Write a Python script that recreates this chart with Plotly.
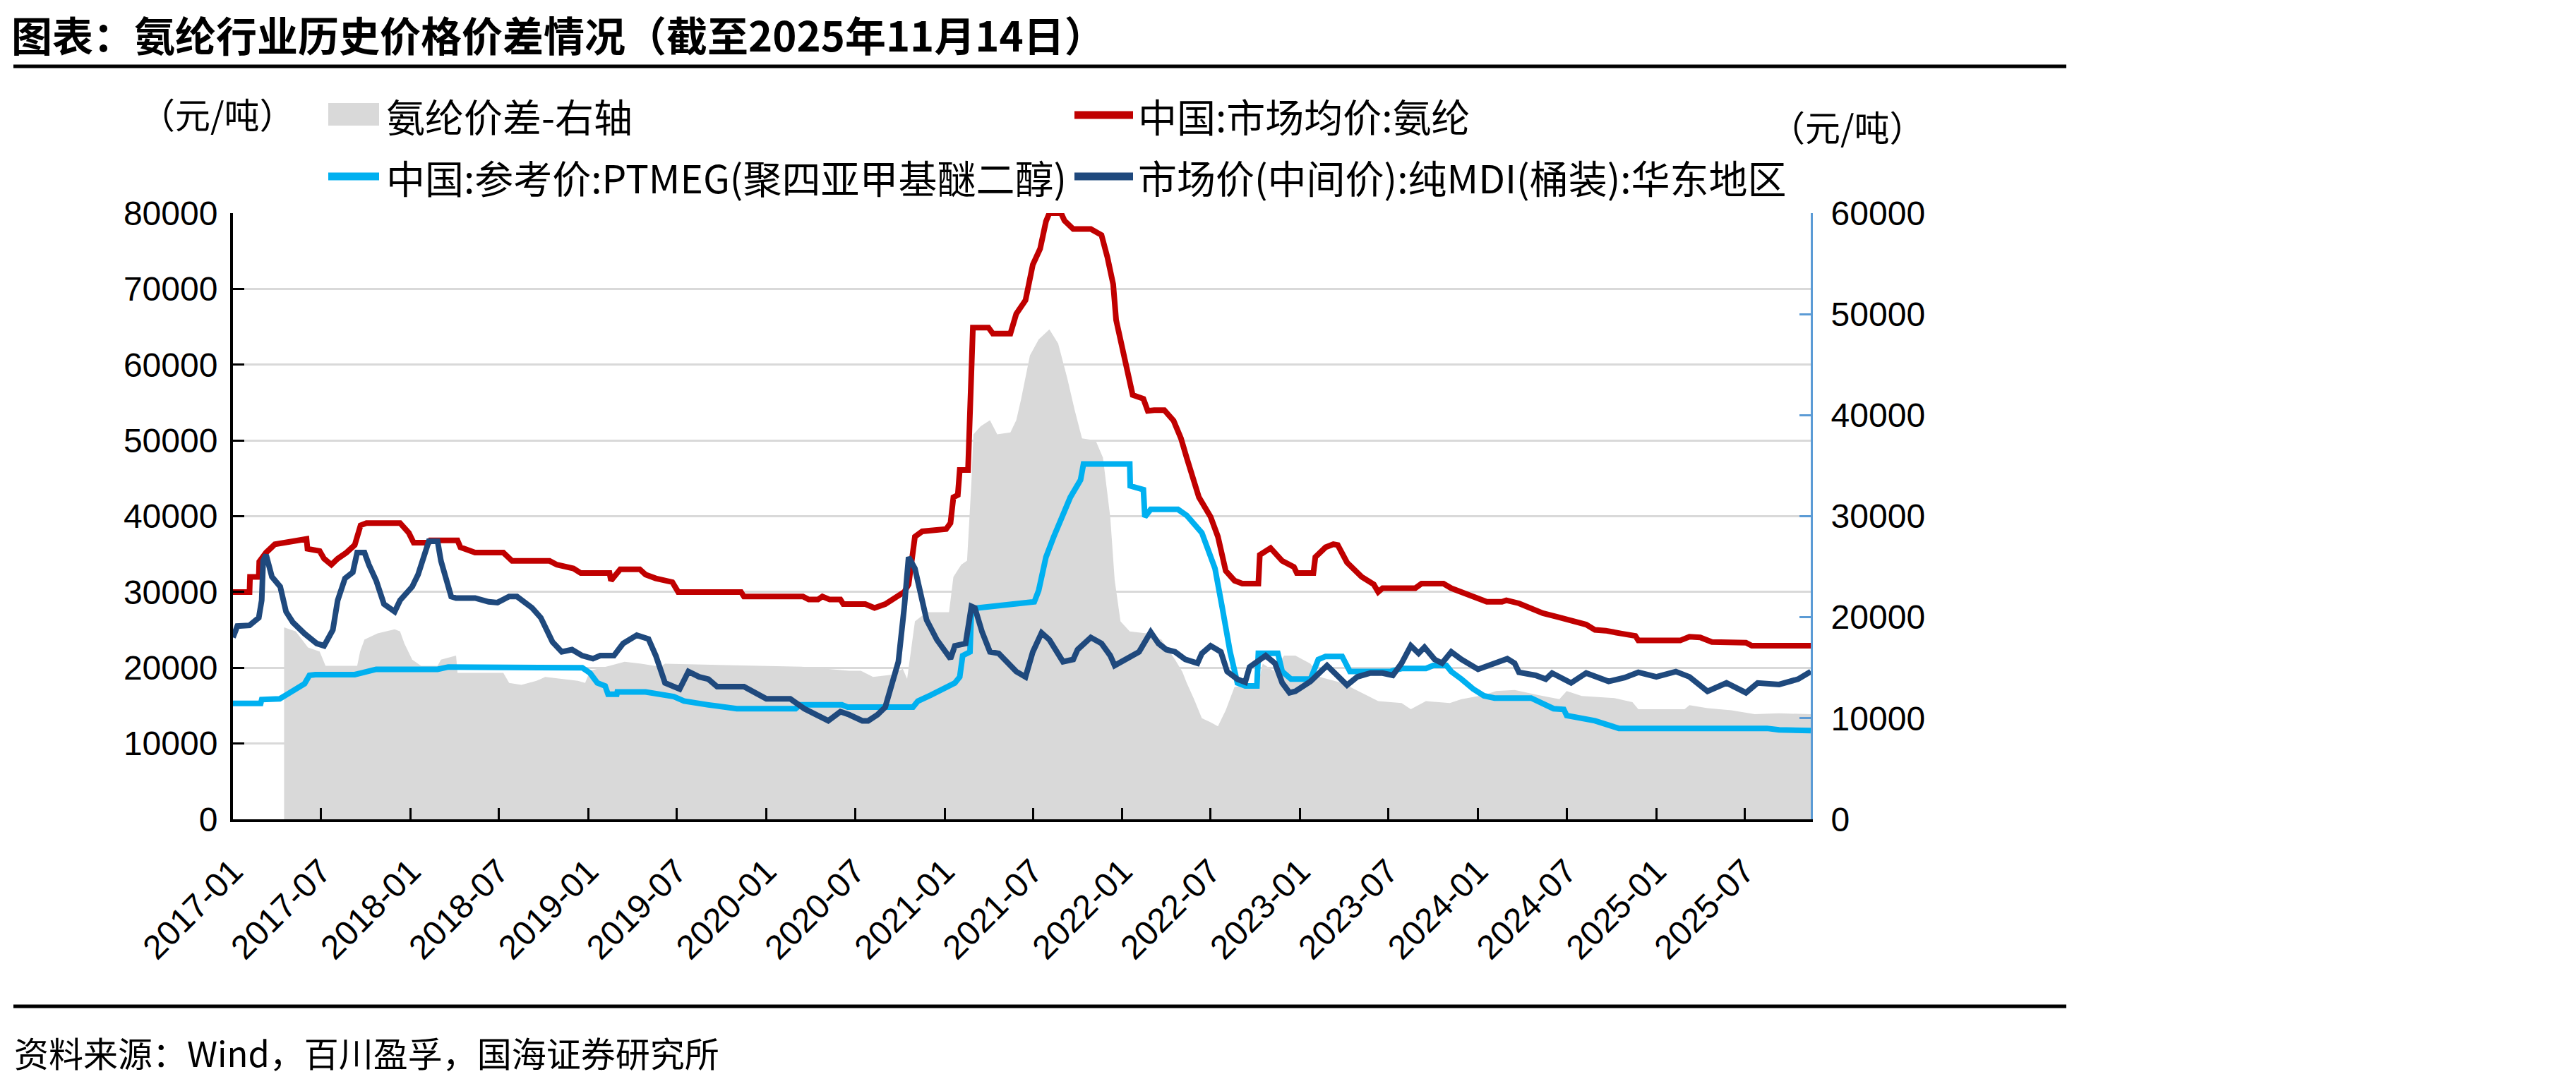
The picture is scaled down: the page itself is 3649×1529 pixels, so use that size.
import plotly.graph_objects as go

# ---------------- data ----------------
spandex_dates = ["2017-01-01","2017-02-04","2017-02-05","2017-02-23","2017-02-24","2017-03-10","2017-03-28","2017-05-10","2017-06-01","2017-06-03",
"2017-06-28","2017-07-07","2017-07-22","2017-08-04","2017-08-22","2017-09-08","2017-09-20","2017-10-02","2017-12-10","2017-12-28",
"2018-01-07","2018-02-07","2018-02-10","2018-04-07","2018-04-13","2018-05-13","2018-07-10","2018-07-28","2018-10-13","2018-10-28",
"2018-12-01","2018-12-16","2019-02-13","2019-02-16","2019-03-07","2019-04-16","2019-04-28","2019-05-19","2019-06-22","2019-07-04",
"2019-11-10","2019-11-16","2020-03-16","2020-03-28","2020-04-16","2020-04-25","2020-05-10","2020-06-01","2020-06-07","2020-07-22",
"2020-08-10","2020-09-01","2020-09-25","2020-10-10","2020-10-19","2020-11-01","2020-11-16","2021-01-04","2021-01-13","2021-01-19",
"2021-01-28","2021-02-01","2021-02-18","2021-02-24","2021-02-28","2021-04-01","2021-04-10","2021-05-16","2021-05-28","2021-06-16",
"2021-07-01","2021-07-16","2021-07-28","2021-08-04","2021-08-28","2021-09-04","2021-09-22","2021-10-28","2021-11-19","2021-12-01",
"2021-12-13","2021-12-19","2022-01-01","2022-01-16","2022-01-22","2022-02-13","2022-02-22","2022-03-07","2022-03-28","2022-04-16",
"2022-05-01","2022-05-13","2022-06-07","2022-07-01","2022-07-16","2022-08-01","2022-08-19","2022-09-04","2022-10-07","2022-10-10",
"2022-11-01","2022-11-25","2022-12-19","2022-12-25","2023-01-28","2023-02-01","2023-02-22","2023-03-10","2023-03-19","2023-04-07",
"2023-05-07","2023-06-01","2023-06-10","2023-06-19","2023-08-25","2023-09-07","2023-10-22","2023-11-07","2023-11-28","2023-12-25",
"2024-01-19","2024-02-19","2024-02-28","2024-03-25","2024-04-25","2024-05-13","2024-06-13","2024-07-10","2024-08-10","2024-08-28",
"2024-09-19","2024-10-22","2024-11-19","2024-11-25","2025-02-19","2025-03-10","2025-04-01","2025-04-25","2025-07-04","2025-07-16",
"2025-11-14"]
spandex_price = [30000,30000,32000,32000,34000,35200,36300,36800,37000,35700,
35400,34400,33600,34400,35200,36200,38800,39100,39100,37800,
36500,36500,36800,36800,35900,35200,35200,34100,34100,33600,
33100,32500,32500,31500,33000,33000,32300,31800,31300,30000,
30000,29400,29400,29000,29000,29400,29000,29000,28400,28400,
27900,28400,29400,30000,31000,37300,38000,38300,39100,42500,
42800,46100,46100,55500,64900,64900,64100,64100,66700,68500,
73200,75300,78900,80000,80000,79000,77900,77900,77100,74200,
70600,65900,62300,58100,56000,55500,53900,54000,54000,52600,
50300,47700,42500,39900,37300,32800,31500,31100,31100,34900,
35800,34100,33300,32500,32500,34600,35900,36300,36200,33900,
32000,31000,30000,30500,30500,31100,31100,30500,30000,29400,
28700,28700,28900,28500,27800,27200,26700,26200,25700,25000,
24900,24500,24200,23600,23600,24100,24000,23400,23300,22900,
22900]

ptmeg_dates = ["2017-01-01","2017-02-27","2017-03-01","2017-04-07","2017-04-20","2017-05-10","2017-05-28","2017-06-07","2017-06-19","2017-09-08",
"2017-10-02","2017-10-22","2018-02-25","2018-03-19","2018-12-19","2019-01-04","2019-01-19","2019-02-04","2019-02-10","2019-02-28",
"2019-03-01","2019-04-28","2019-06-25","2019-07-16","2019-09-04","2019-11-01","2020-03-01","2020-03-10","2020-06-04","2020-06-16",
"2020-10-28","2020-11-07","2020-12-04","2021-01-22","2021-02-01","2021-02-07","2021-02-22","2021-02-25","2021-03-10","2021-04-13",
"2021-07-04","2021-07-13","2021-07-28","2021-08-13","2021-09-16","2021-10-07","2021-10-13","2022-01-16","2022-01-17","2022-02-13",
"2022-02-16","2022-02-28","2022-04-25","2022-05-13","2022-05-25","2022-06-13","2022-06-28","2022-07-10","2022-07-25","2022-08-10",
"2022-08-25","2022-09-10","2022-10-04","2022-10-07","2022-11-16","2022-11-25","2022-12-13","2023-01-22","2023-02-07","2023-02-22",
"2023-03-28","2023-04-13","2023-07-04","2023-07-28","2023-09-16","2023-10-01","2023-10-28","2023-11-07","2023-11-28","2023-12-22",
"2024-01-13","2024-02-04","2024-04-19","2024-05-13","2024-06-04","2024-06-25","2024-07-01","2024-08-28","2024-10-07","2024-10-16",
"2025-08-16","2025-09-10","2025-11-14"]
ptmeg_price = [15300,15300,15800,15900,16400,17200,17900,19000,19100,19100,
19500,19800,19800,20100,20000,19300,18000,17600,16500,16500,
16800,16800,16200,15600,15100,14600,14600,15100,15100,14800,
14800,15600,16400,18000,18800,21600,22100,27600,27900,28100,
28700,30200,34600,37300,42500,44800,46900,46900,44000,43500,
39900,40900,40900,40100,39300,37800,35200,33100,27900,22100,
18000,17600,17600,21900,21900,19500,18500,18500,21100,21500,
21500,19500,19500,19900,19900,20300,20300,19500,18500,17200,
16300,16000,16000,15300,14600,14500,13700,13000,12200,12000,
12000,11800,11700]

mdi_dates = ["2017-01-01","2017-01-10","2017-02-04","2017-02-23","2017-03-01","2017-03-04","2017-03-10","2017-03-22","2017-04-08","2017-04-20",
"2017-05-04","2017-05-28","2017-06-22","2017-07-07","2017-07-25","2017-08-04","2017-08-19","2017-09-04","2017-09-13","2017-09-28",
"2017-10-07","2017-10-22","2017-11-07","2017-11-29","2017-12-10","2018-01-04","2018-01-16","2018-01-28","2018-02-07","2018-02-25",
"2018-03-04","2018-03-25","2018-04-04","2018-05-13","2018-06-10","2018-06-28","2018-07-22","2018-08-07","2018-09-07","2018-09-25",
"2018-10-10","2018-10-19","2018-11-07","2018-11-28","2018-12-19","2019-01-10","2019-01-25","2019-02-22","2019-03-13","2019-04-10",
"2019-05-04","2019-05-19","2019-06-07","2019-07-07","2019-07-25","2019-08-16","2019-09-04","2019-09-22","2019-11-16","2020-01-01",
"2020-02-19","2020-03-19","2020-05-07","2020-06-01","2020-06-19","2020-07-16","2020-07-28","2020-08-16","2020-09-01","2020-09-13",
"2020-09-28","2020-10-10","2020-10-19","2020-11-01","2020-11-13","2020-11-25","2020-12-16","2021-01-13","2021-01-22","2021-02-13",
"2021-02-25","2021-03-04","2021-03-19","2021-04-04","2021-04-22","2021-05-07","2021-05-28","2021-06-16","2021-07-01","2021-07-19",
"2021-08-04","2021-09-01","2021-09-22","2021-10-01","2021-10-28","2021-11-19","2021-12-07","2021-12-16","2022-01-07","2022-02-04",
"2022-02-28","2022-03-16","2022-04-01","2022-04-19","2022-05-10","2022-06-04","2022-06-13","2022-07-01","2022-07-22","2022-08-04",
"2022-08-25","2022-09-10","2022-09-19","2022-10-22","2022-11-10","2022-11-25","2022-12-10","2022-12-22","2023-01-22","2023-02-10",
"2023-02-25","2023-03-13","2023-04-07","2023-04-28","2023-05-25","2023-06-19","2023-07-10","2023-07-28","2023-08-16","2023-09-01",
"2023-09-13","2023-10-04","2023-10-19","2023-11-07","2023-11-28","2024-01-01","2024-02-04","2024-03-01","2024-03-16","2024-03-25",
"2024-04-28","2024-05-19","2024-06-01","2024-07-10","2024-08-10","2024-09-25","2024-10-28","2024-11-25","2025-01-01","2025-02-10",
"2025-03-10","2025-04-16","2025-05-25","2025-07-04","2025-07-28","2025-09-10","2025-10-19","2025-11-14"]
mdi_price = [24000,25500,25600,26600,28900,34100,34900,32000,30700,27400,
26000,24500,23200,22900,25000,28900,31800,32600,35200,35200,
33600,31500,28400,27400,28900,30700,32300,34600,36700,36700,
34100,29400,29200,29200,28700,28600,29400,29400,27900,26600,
24700,23400,22100,22400,21600,21200,21600,21600,23200,24300,
23800,21600,18000,17200,19500,18800,18500,17500,17500,15900,
15900,14600,13000,14200,13800,13000,13000,13800,14800,17200,
20800,27900,34600,33100,30000,26300,23700,21200,22900,23200,
28100,27900,24700,22100,21900,20800,19500,18800,22100,24600,
23700,20800,21100,22400,24000,23200,21600,20300,21100,22100,
24700,23200,22400,22100,21100,20600,21900,22900,22100,19500,
18500,18100,20100,21600,20600,18000,16700,16900,18200,19300,
20300,19300,17700,18800,19300,19300,19000,20600,22900,21900,
22700,21100,20600,22100,21100,19800,20600,21200,20600,19400,
19000,18500,19300,18000,19300,18200,18700,19400,18800,19500,
18800,16900,18000,16700,18000,17800,18500,19500]

spread_dates = ["2017-04-16","2017-05-10","2017-06-04","2017-06-28","2017-07-10","2017-09-13","2017-09-19","2017-09-28","2017-10-25","2017-11-29",
"2017-12-10","2017-12-19","2018-01-04","2018-01-22","2018-02-25","2018-03-04","2018-04-04","2018-04-07","2018-07-10","2018-07-22",
"2018-08-16","2018-09-16","2018-10-04","2018-12-10","2018-12-25","2019-01-04","2019-02-13","2019-03-16","2019-04-19","2019-05-28",
"2019-06-07","2019-09-04","2019-12-07","2020-03-13","2020-06-19","2020-07-13","2020-08-07","2020-09-13","2020-10-07","2020-10-16",
"2020-11-01","2020-11-25","2021-01-10","2021-01-19","2021-02-04","2021-02-16","2021-02-25","2021-03-01","2021-03-16","2021-04-04",
"2021-04-19","2021-05-16","2021-05-28","2021-06-07","2021-06-25","2021-07-13","2021-08-04","2021-08-22","2021-09-10","2021-09-25",
"2021-10-10","2021-11-07","2021-11-22","2021-12-07","2021-12-16","2021-12-28","2022-01-16","2022-02-19","2022-03-22","2022-04-19",
"2022-05-04","2022-05-13","2022-05-28","2022-06-13","2022-07-01","2022-07-16","2022-08-01","2022-08-19","2022-09-19","2022-10-07",
"2022-10-16","2022-11-07","2022-11-29","2022-12-22","2023-01-22","2023-02-10","2023-03-28","2023-05-16","2023-06-10","2023-07-28",
"2023-08-16","2023-09-16","2023-11-04","2023-11-28","2024-01-13","2024-02-07","2024-03-16","2024-05-04","2024-06-16","2024-07-01",
"2024-08-01","2024-10-07","2024-11-13","2024-11-25","2025-02-28","2025-03-10","2025-04-16","2025-06-04","2025-07-22","2025-09-10",
"2025-11-14"]
spread_value = [19000,18600,17000,16600,15200,15200,16600,17800,18400,18800,
18600,17400,15800,15200,15200,15800,16200,14500,14500,13500,
13300,13700,14100,13700,13500,14700,15200,15600,15400,15100,
15400,15300,15200,15100,14700,14700,14100,14300,14900,13900,
19600,20500,20500,24000,25200,25600,33400,38100,38900,39500,
38100,38300,39500,41600,45900,47500,48500,47100,43600,40500,
37700,37500,35800,29900,23700,19600,18600,18400,17800,15800,
14600,13500,11900,10000,9600,9200,10800,13100,13300,13500,
15400,14700,16200,16200,15400,14100,13500,12300,11700,11500,
10900,11700,11500,11900,12300,12700,12800,12300,11900,12700,
12200,12000,11600,10900,10900,11300,11000,10800,10400,10500,
10400]

tick_labels = ["2017-01","2017-07","2018-01","2018-07","2019-01","2019-07","2020-01","2020-07","2021-01",
               "2021-07","2022-01","2022-07","2023-01","2023-07","2024-01","2024-07","2025-01","2025-07"]

names = ["氨纶价差-右轴", "中国:市场均价:氨纶", "中国:参考价:PTMEG(聚四亚甲基醚二醇)", "市场价(中间价):纯MDI(桶装):华东地区"]
title_text = "图表：氨纶行业历史价格价差情况（截至2025年11月14日）"
source_text = "资料来源：Wind，百川盈孚，国海证券研究所"
unit_text = "（元/吨）"

# ---------------- styling ----------------
W, H = 3649, 1529
L, R, T, B = 330, 2565, 302, 1161          # plot area in px
GREY, RED, LBLUE, DBLUE = "#D9D9D9", "#C00000", "#00B0F0", "#1F497D"
RAXIS = "#5B9BD5"
CJK = "Noto Sans CJK SC"
NUM = "Liberation Sans"

def px(x):
    return (x - L) / (R - L)

def py(y):
    return (B - y) / (B - T)

fig = go.Figure()
fig.add_trace(go.Scatter(x=spread_dates, y=spread_value, name=names[0], mode="lines",
                         line=dict(width=0, color=GREY), fill="tozeroy", fillcolor=GREY,
                         yaxis="y", showlegend=False))
fig.add_trace(go.Scatter(x=spandex_dates, y=spandex_price, name=names[1], mode="lines",
                         line=dict(width=8, color=RED), yaxis="y2", showlegend=False))
fig.add_trace(go.Scatter(x=ptmeg_dates, y=ptmeg_price, name=names[2], mode="lines",
                         line=dict(width=8, color=LBLUE), yaxis="y2", showlegend=False))
fig.add_trace(go.Scatter(x=mdi_dates, y=mdi_price, name=names[3], mode="lines",
                         line=dict(width=8, color=DBLUE), yaxis="y2", showlegend=False))

fig.update_layout(
    width=W, height=H,
    margin=dict(l=L, r=W - R, t=T, b=H - B, pad=0),
    paper_bgcolor="white", plot_bgcolor="white",
    font=dict(family=NUM, size=48, color="black"),
    xaxis=dict(type="date", range=["2017-01-01", "2025-11-14"],
               tickvals=[t + "-01" for t in tick_labels], ticktext=tick_labels,
               tickangle=-45, ticks="inside", ticklen=16, tickwidth=3, tickcolor="black",
               showline=True, linecolor="black", linewidth=4, showgrid=False,
               ticklabelstandoff=22,
               tickfont=dict(family=NUM, size=48, color="black"), anchor="y"),
    yaxis=dict(side="right", range=[0, 60000], dtick=10000, tickformat="d",
               showgrid=False, zeroline=False, showline=True, linecolor=RAXIS, linewidth=3,
               ticks="inside", ticklen=16, tickwidth=3, tickcolor=RAXIS,
               ticklabelstandoff=16, tickfont=dict(family=NUM, size=48, color="black")),
    yaxis2=dict(side="left", overlaying="y", range=[0, 80000], dtick=10000, tickformat="d",
                showgrid=True, gridcolor=GREY, gridwidth=3, zeroline=False,
                showline=True, linecolor="black", linewidth=4,
                ticks="inside", ticklen=16, tickwidth=3, tickcolor="black",
                ticklabelstandoff=8, tickfont=dict(family=NUM, size=48, color="black")),
)

shapes = []
# horizontal rules
shapes.append(dict(type="line", xref="paper", yref="paper", x0=px(19), x1=px(2927), y0=py(94), y1=py(94),
                   line=dict(color="black", width=5)))
shapes.append(dict(type="line", xref="paper", yref="paper", x0=px(19), x1=px(2927), y0=py(1426), y1=py(1426),
                   line=dict(color="black", width=5)))
# legend symbols
shapes.append(dict(type="rect", xref="paper", yref="paper", x0=px(465), x1=px(537), y0=py(178), y1=py(146),
                   line=dict(width=0), fillcolor=GREY))
shapes.append(dict(type="line", xref="paper", yref="paper", x0=px(1522), x1=px(1605), y0=py(163), y1=py(163),
                   line=dict(color=RED, width=11)))
shapes.append(dict(type="line", xref="paper", yref="paper", x0=px(465), x1=px(537), y0=py(250), y1=py(250),
                   line=dict(color=LBLUE, width=11)))
shapes.append(dict(type="line", xref="paper", yref="paper", x0=px(1522), x1=px(1605), y0=py(250), y1=py(250),
                   line=dict(color=DBLUE, width=11)))
fig.update_layout(shapes=shapes)

ann = []
def txt(text, x, y, size, bold=False, family=CJK):
    ann.append(dict(text=("<b>%s</b>" % text) if bold else text, xref="paper", yref="paper",
                    x=px(x), y=py(y), xanchor="left", yanchor="middle", showarrow=False,
                    font=dict(family=family, size=size, color="black")))

txt(title_text, 14, 48, 58, bold=True)
txt(source_text, 18, 1490, 49)
txt(unit_text, 196, 160, 50)
txt(unit_text, 2505, 178, 50)
txt(names[0], 545, 163, 55)
txt(names[1], 1610, 163, 55)
txt(names[2], 545, 250, 55)
txt(names[3], 1610, 250, 55)
fig.update_layout(annotations=ann)

fig.write_html("out.html")
